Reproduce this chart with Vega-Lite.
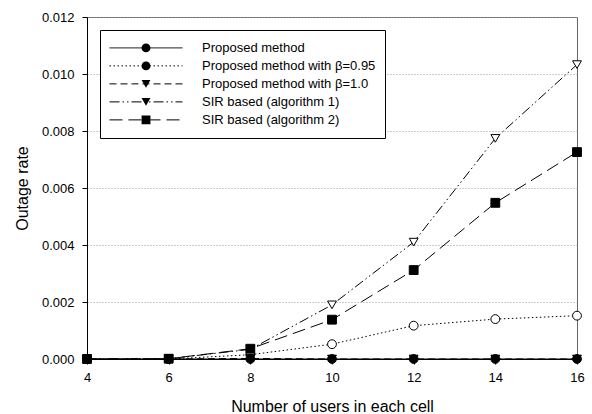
{
  "$schema": "https://vega.github.io/schema/vega-lite/v6.json",
  "autosize": "none",
  "width": 490,
  "height": 342,
  "padding": {"left": 87, "top": 17, "right": 15, "bottom": 55},
  "background": "white",
  "config": {
    "font": "Liberation Sans",
    "view": {"stroke": "#666666", "strokeWidth": 1},
    "axis": {
      "labelFont": "Liberation Sans",
      "labelFontSize": 13,
      "labelColor": "black",
      "titleFont": "Liberation Sans",
      "titleFontSize": 16,
      "titleFontWeight": "normal",
      "titleColor": "black",
      "domainColor": "black",
      "tickColor": "black",
      "tickSize": 5
    },
    "legend": {
      "labelFont": "Liberation Sans",
      "labelFontSize": 13,
      "labelColor": "black",
      "labelLimit": 300
    }
  },
  "data": {
    "values": [
      {"users": 4, "series": "Proposed method with β=0.95", "outage": 0},
      {"users": 6, "series": "Proposed method with β=0.95", "outage": 0},
      {"users": 8, "series": "Proposed method with β=0.95", "outage": 0.00015},
      {"users": 10, "series": "Proposed method with β=0.95", "outage": 0.00052},
      {"users": 12, "series": "Proposed method with β=0.95", "outage": 0.00117},
      {"users": 14, "series": "Proposed method with β=0.95", "outage": 0.0014},
      {"users": 16, "series": "Proposed method with β=0.95", "outage": 0.00152},
      {"users": 4, "series": "SIR based (algorithm 1)", "outage": 0},
      {"users": 6, "series": "SIR based (algorithm 1)", "outage": 0.00001},
      {"users": 8, "series": "SIR based (algorithm 1)", "outage": 0.00034},
      {"users": 10, "series": "SIR based (algorithm 1)", "outage": 0.0019},
      {"users": 12, "series": "SIR based (algorithm 1)", "outage": 0.0041},
      {"users": 14, "series": "SIR based (algorithm 1)", "outage": 0.00774},
      {"users": 16, "series": "SIR based (algorithm 1)", "outage": 0.01033},
      {"users": 4, "series": "SIR based (algorithm 2)", "outage": 0},
      {"users": 6, "series": "SIR based (algorithm 2)", "outage": 0.00001},
      {"users": 8, "series": "SIR based (algorithm 2)", "outage": 0.00036},
      {"users": 10, "series": "SIR based (algorithm 2)", "outage": 0.00138},
      {"users": 12, "series": "SIR based (algorithm 2)", "outage": 0.00312},
      {"users": 14, "series": "SIR based (algorithm 2)", "outage": 0.00548},
      {"users": 16, "series": "SIR based (algorithm 2)", "outage": 0.00726},
      {"users": 4, "series": "Proposed method with β=1.0", "outage": 0},
      {"users": 6, "series": "Proposed method with β=1.0", "outage": 0},
      {"users": 8, "series": "Proposed method with β=1.0", "outage": 0.00002},
      {"users": 10, "series": "Proposed method with β=1.0", "outage": 0},
      {"users": 12, "series": "Proposed method with β=1.0", "outage": 0},
      {"users": 14, "series": "Proposed method with β=1.0", "outage": 0},
      {"users": 16, "series": "Proposed method with β=1.0", "outage": 0},
      {"users": 4, "series": "Proposed method", "outage": 0},
      {"users": 6, "series": "Proposed method", "outage": 0},
      {"users": 8, "series": "Proposed method", "outage": 0},
      {"users": 10, "series": "Proposed method", "outage": 0},
      {"users": 12, "series": "Proposed method", "outage": 0},
      {"users": 14, "series": "Proposed method", "outage": 0},
      {"users": 16, "series": "Proposed method", "outage": 0}
    ]
  },
  "encoding": {
    "x": {
      "field": "users",
      "type": "quantitative",
      "scale": {"domain": [4, 16], "nice": false, "zero": false},
      "axis": {
        "title": "Number of users in each cell",
        "values": [4, 6, 8, 10, 12, 14, 16],
        "grid": false,
        "labelFlush": false,
        "labelPadding": 7,
        "titlePadding": 14
      }
    },
    "y": {
      "field": "outage",
      "type": "quantitative",
      "scale": {"domain": [0, 0.012], "nice": false},
      "axis": {
        "title": "Outage rate",
        "values": [0, 0.002, 0.004, 0.006, 0.008, 0.01, 0.012],
        "format": ".3f",
        "grid": true,
        "gridColor": "#9a9a9a",
        "gridDash": [1, 2],
        "gridWidth": 1,
        "labelPadding": 8,
        "titlePadding": 11
      }
    }
  },
  "layer": [
    {
      "mark": {"type": "line", "color": "black", "strokeWidth": 1},
      "encoding": {
        "strokeDash": {
          "field": "series",
          "type": "nominal",
          "scale": {
            "domain": ["Proposed method", "Proposed method with β=0.95", "Proposed method with β=1.0", "SIR based (algorithm 1)", "SIR based (algorithm 2)"],
            "range": [[1, 0], [1.5, 2.5], [7, 4], [10, 3, 1.5, 3, 1.5, 3], [13, 6]]
          },
          "legend": {
            "title": null,
            "orient": "top-left",
            "offset": 13,
            "padding": 9,
            "fillColor": "white",
            "strokeColor": "black",
            "symbolType": "stroke",
            "symbolSize": 5329,
            "symbolStrokeWidth": 1,
            "symbolStrokeColor": "black",
            "symbolOpacity": 1,
            "clipHeight": 17.75,
            "rowPadding": 0,
            "labelOffset": 19
          }
        }
      }
    },
    {
      "mark": {"type": "point", "filled": true, "stroke": "black", "strokeWidth": 1, "size": 78, "opacity": 1},
      "encoding": {
        "shape": {
          "field": "series",
          "type": "nominal",
          "scale": {
            "domain": ["Proposed method", "Proposed method with β=0.95", "Proposed method with β=1.0", "SIR based (algorithm 1)", "SIR based (algorithm 2)"],
            "range": ["circle", "circle", "triangle-down", "triangle-down", "square"]
          },
          "legend": {
            "title": null,
            "orient": "none",
            "legendX": 13,
            "legendY": 13,
            "padding": 9,
            "symbolSize": 78,
            "symbolStrokeWidth": 1,
            "symbolStrokeColor": "black",
            "symbolOpacity": 1,
            "symbolOffset": 30.5,
            "clipHeight": 17.75,
            "rowPadding": 0,
            "labelOffset": 19,
            "labelExpr": "''",
            "encode": {
              "symbols": {
                "fill": {"value": {"expr": "datum.index === 1 || datum.index === 3 ? 'white' : 'black'"}},
                "stroke": {"value": "black"},
                "strokeWidth": {"value": 1},
                "opacity": {"value": 1}
              }
            }
          }
        },
        "fill": {
          "condition": {
            "test": "datum.series === 'Proposed method with β=0.95' || datum.series === 'SIR based (algorithm 1)'",
            "value": "white"
          },
          "value": "black"
        }
      }
    }
  ]
}
